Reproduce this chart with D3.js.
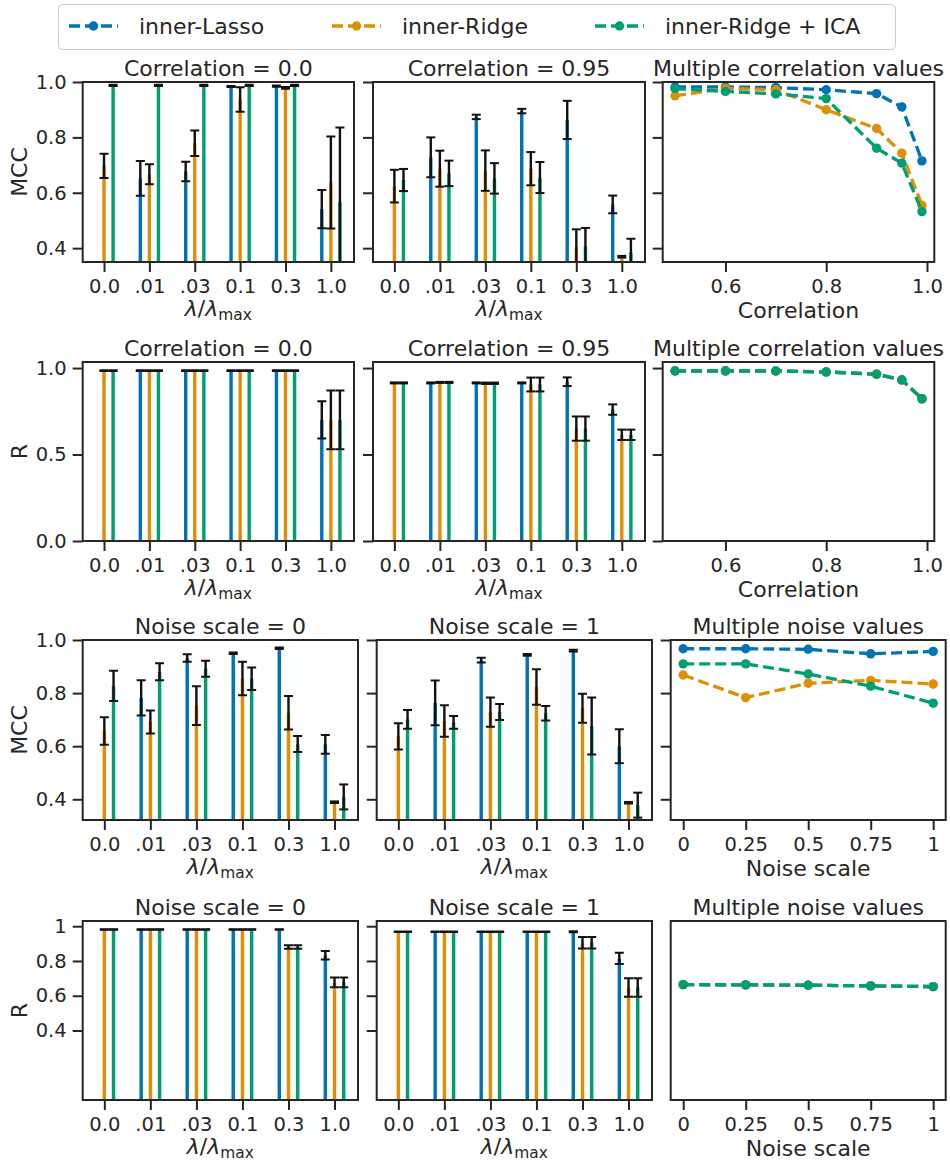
<!DOCTYPE html>
<html>
<head>
<meta charset="utf-8">
<script src="https://cdn.jsdelivr.net/npm/d3@7"></script>
<style>
  body { margin: 0; background: #fff; }
  svg { display: block; }
  text { font-family: "DejaVu Sans", sans-serif; fill: #262626; }
</style>
</head>
<body>
<svg id="fig" width="950" height="1162"></svg>
<script>
// ---- categories and tick labels ----
const methods = ["inner-Lasso", "inner-Ridge", "inner-Ridge + ICA"];
const methodColors = ["#0173b2", "#de8f05", "#029e73"];
const lambdaLabels = ["0.0", ".01", ".03", "0.1", "0.3", "1.0"];
const corrValues = [0.5, 0.6, 0.7, 0.8, 0.9, 0.95, 0.99];
const corrTicks = [0.6, 0.8, 1.0];
const noiseValues = [0, 0.25, 0.5, 0.75, 1];
const noiseTicks = [0, 0.25, 0.5, 0.75, 1];
const noiseTickLabels = ["0", "0.25", "0.5", "0.75", "1"];
const mccTicks = [0.4, 0.6, 0.8, 1.0];
const rTicksA = [0.0, 0.5, 1.0];
const rTicksB = [0.4, 0.6, 0.8, 1];
const rTickLabelsB = ["0.4", "0.6", "0.8", "1"];

// ---- MCC, correlation = 0.0 (mean, sd per lambda) ----
const mccC0Lasso = [null, 0.652, 0.677, 0.984, 0.985, 0.541];
const mccC0LassoSd = [0, 0.063, 0.035, 0.002, 0.002, 0.069];
const mccC0Ridge = [0.697, 0.667, 0.779, 0.937, 0.979, 0.637];
const mccC0RidgeSd = [0.044, 0.036, 0.046, 0.044, 0.003, 0.166];
const mccC0Ica = [0.988, 0.988, 0.988, 0.988, 0.988, 0.568];
const mccC0IcaSd = [0.002, 0.002, 0.002, 0.002, 0.002, 0.268];

// ---- MCC, correlation = 0.95 ----
const mccC95Lasso = [null, 0.728, 0.874, 0.895, 0.863, 0.558];
const mccC95LassoSd = [0, 0.072, 0.008, 0.008, 0.069, 0.032];
const mccC95Ridge = [0.624, 0.687, 0.680, 0.687, 0.403, 0.369];
const mccC95RidgeSd = [0.059, 0.065, 0.073, 0.060, 0.065, 0.003];
const mccC95Ica = [0.646, 0.670, 0.652, 0.655, 0.408, 0.384];
const mccC95IcaSd = [0.040, 0.046, 0.055, 0.056, 0.065, 0.050];

// ---- MCC across correlation values ----
const mccCorrLasso = [0.982, 0.982, 0.980, 0.972, 0.958, 0.910, 0.715];
const mccCorrRidge = [0.950, 0.977, 0.972, 0.900, 0.832, 0.743, 0.555];
const mccCorrIca = [0.976, 0.966, 0.957, 0.940, 0.761, 0.707, 0.532];

// ---- R, correlation = 0.0 ----
const rC0Lasso = [null, 0.985, 0.985, 0.985, 0.985, 0.700];
const rC0LassoSd = [0, 0.002, 0.002, 0.002, 0.002, 0.108];
const rC0Ridge = [0.985, 0.985, 0.985, 0.985, 0.985, 0.700];
const rC0RidgeSd = [0.002, 0.002, 0.002, 0.002, 0.002, 0.170];
const rC0Ica = [0.985, 0.985, 0.985, 0.985, 0.985, 0.700];
const rC0IcaSd = [0.002, 0.002, 0.002, 0.002, 0.002, 0.170];

// ---- R, correlation = 0.95 ----
const rC95Lasso = [null, 0.914, 0.914, 0.914, 0.921, 0.760];
const rC95LassoSd = [0, 0.003, 0.003, 0.003, 0.025, 0.030];
const rC95Ridge = [0.914, 0.917, 0.912, 0.905, 0.650, 0.614];
const rC95RidgeSd = [0.003, 0.003, 0.004, 0.040, 0.070, 0.030];
const rC95Ica = [0.914, 0.917, 0.912, 0.905, 0.650, 0.614];
const rC95IcaSd = [0.003, 0.003, 0.004, 0.040, 0.070, 0.030];

// ---- R across correlation values ----
const rCorrLasso = [0.984, 0.984, 0.983, 0.978, 0.965, 0.932, 0.824];
const rCorrRidge = [0.983, 0.983, 0.983, 0.977, 0.964, 0.931, 0.822];
const rCorrIca = [0.983, 0.983, 0.983, 0.977, 0.964, 0.931, 0.822];

// ---- MCC, noise scale = 0 ----
const mccN0Lasso = [null, 0.782, 0.932, 0.950, 0.969, 0.607];
const mccN0LassoSd = [0, 0.066, 0.014, 0.003, 0.003, 0.035];
const mccN0Ridge = [0.657, 0.691, 0.753, 0.855, 0.726, 0.389];
const mccN0RidgeSd = [0.052, 0.043, 0.073, 0.063, 0.063, 0.003];
const mccN0Ica = [0.827, 0.880, 0.892, 0.854, 0.608, 0.409];
const mccN0IcaSd = [0.057, 0.032, 0.030, 0.042, 0.030, 0.047];

// ---- MCC, noise scale = 1 ----
const mccN1Lasso = [null, 0.763, 0.924, 0.944, 0.960, 0.600];
const mccN1LassoSd = [0, 0.084, 0.009, 0.003, 0.003, 0.064];
const mccN1Ridge = [0.637, 0.695, 0.728, 0.823, 0.743, 0.387];
const mccN1RidgeSd = [0.049, 0.059, 0.055, 0.067, 0.055, 0.003];
const mccN1Ica = [0.701, 0.690, 0.729, 0.724, 0.676, 0.378];
const mccN1IcaSd = [0.035, 0.024, 0.030, 0.027, 0.107, 0.047];

// ---- MCC across noise values ----
const mccNoiseLasso = [0.967, 0.967, 0.965, 0.948, 0.957];
const mccNoiseRidge = [0.868, 0.783, 0.837, 0.848, 0.834];
const mccNoiseIca = [0.910, 0.910, 0.872, 0.826, 0.762];

// ---- R, noise scale = 0 ----
const rN0Lasso = [null, 0.981, 0.981, 0.981, 0.981, 0.833];
const rN0LassoSd = [0, 0.002, 0.002, 0.002, 0.002, 0.024];
const rN0Ridge = [0.981, 0.981, 0.981, 0.981, 0.881, 0.677];
const rN0RidgeSd = [0.002, 0.002, 0.002, 0.002, 0.010, 0.028];
const rN0Ica = [0.981, 0.981, 0.981, 0.981, 0.881, 0.677];
const rN0IcaSd = [0.002, 0.002, 0.002, 0.002, 0.010, 0.028];

// ---- R, noise scale = 1 ----
const rN1Lasso = [null, 0.968, 0.968, 0.968, 0.968, 0.815];
const rN1LassoSd = [0, 0.002, 0.002, 0.002, 0.003, 0.033];
const rN1Ridge = [0.968, 0.968, 0.968, 0.968, 0.905, 0.647];
const rN1RidgeSd = [0.002, 0.002, 0.002, 0.002, 0.033, 0.053];
const rN1Ica = [0.968, 0.968, 0.968, 0.968, 0.905, 0.647];
const rN1IcaSd = [0.002, 0.002, 0.002, 0.002, 0.033, 0.053];

// ---- R across noise values ----
const rNoiseLasso = [0.980, 0.979, 0.977, 0.974, 0.970];
const rNoiseRidge = [0.980, 0.979, 0.977, 0.974, 0.970];
const rNoiseIca = [0.980, 0.979, 0.977, 0.974, 0.970];

// ---- drawing ----
const INK = "#262626";
const FS_TICK = 19.5, FS_LABEL = 22, FS_TITLE = 22;
const svg = d3.select("#fig");
let clipCount = 0;

const rows = [
  { y0: 82, y1: 262, domain: [0.35, 1.0], ticks: mccTicks, tickLabels: mccTicks.map(d3.format(".1f")), ylabel: "MCC" },
  { y0: 362, y1: 541, domain: [0, 1.035], ticks: rTicksA, tickLabels: rTicksA.map(d3.format(".1f")), ylabel: "R" },
  { y0: 640, y1: 820, domain: [0.322, 1.0], ticks: mccTicks, tickLabels: mccTicks.map(d3.format(".1f")), ylabel: "MCC" },
  { y0: 921, y1: 1100, domain: [0, 1.03], ticks: rTicksB, tickLabels: rTickLabelsB, ylabel: "R" }
];
const colsTop = [[82.7, 354], [373, 645], [662.7, 934.3]];
const colsBottom = [[82.7, 358], [376.7, 652], [670.7, 945.7]];

function makeClip(box) {
  const id = "clip" + (clipCount++);
  svg.append("clipPath").attr("id", id)
    .append("rect").attr("x", box.x0).attr("y", box.y0)
    .attr("width", box.x1 - box.x0).attr("height", box.y1 - box.y0);
  return id;
}

function styleAxis(g, keepText) {
  g.attr("font-family", "DejaVu Sans").attr("font-size", FS_TICK);
  g.select(".domain").remove();
  g.selectAll(".tick line").attr("stroke", INK).attr("stroke-width", 2);
  g.selectAll(".tick text").attr("fill", INK);
  if (!keepText) g.selectAll(".tick text").remove();
}

function frame(box) {
  svg.append("rect").attr("x", box.x0).attr("y", box.y0)
    .attr("width", box.x1 - box.x0).attr("height", box.y1 - box.y0)
    .attr("fill", "none").attr("stroke", INK).attr("stroke-width", 2);
}

function title(box, txt) {
  svg.append("text").attr("x", (box.x0 + box.x1) / 2).attr("y", box.y0 - 6)
    .attr("text-anchor", "middle").attr("font-size", FS_TITLE).text(txt);
}

function yAxis(box, y, row, withLabels) {
  const g = svg.append("g").attr("transform", `translate(${box.x0},0)`)
    .call(d3.axisLeft(y).tickValues(row.ticks)
      .tickFormat((d, i) => row.tickLabels[i]).tickSize(10).tickPadding(6));
  styleAxis(g, withLabels);
  if (withLabels) {
    svg.append("text")
      .attr("transform", `translate(27,${(box.y0 + box.y1) / 2}) rotate(-90)`)
      .attr("text-anchor", "middle").attr("font-size", FS_LABEL).text(row.ylabel);
  }
}

function lambdaLabel(box) {
  const t = svg.append("text").attr("x", (box.x0 + box.x1) / 2).attr("y", box.y1 + 54)
    .attr("text-anchor", "middle").attr("font-size", FS_LABEL);
  t.append("tspan").attr("font-style", "italic").text("λ");
  t.append("tspan").text("/");
  t.append("tspan").attr("font-style", "italic").text("λ");
  t.append("tspan").attr("font-size", FS_LABEL * 0.7).attr("dy", 4).text("max");
}

function barPanel(box, row, series, heading, withLabels) {
  const x = d3.scaleLinear().domain([-0.47, 5.51]).range([box.x0, box.x1]);
  const y = d3.scaleLinear().domain(row.domain).range([box.y1, box.y0]);
  const clip = makeClip(box);
  const plot = svg.append("g").attr("clip-path", `url(#${clip})`);
  const bw = 0.075;
  series.forEach((s, k) => {
    const off = (k - 1) * 0.2;
    const pts = s.mean.map((m, i) => ({ i, m, sd: s.sd[i] })).filter(d => d.m !== null);
    plot.selectAll(null).data(pts).enter().append("rect")
      .attr("x", d => x(d.i + off - bw / 2))
      .attr("width", x(bw) - x(0))
      .attr("y", d => y(d.m))
      .attr("height", d => y(row.domain[0]) - y(d.m))
      .attr("fill", methodColors[k]);
  });
  series.forEach((s, k) => {
    const off = (k - 1) * 0.2;
    const pts = s.mean.map((m, i) => ({ i, m, sd: s.sd[i] })).filter(d => d.m !== null);
    const eg = plot.selectAll(null).data(pts).enter().append("g")
      .attr("stroke", "#111").attr("fill", "none");
    eg.append("line")
      .attr("x1", d => x(d.i + off)).attr("x2", d => x(d.i + off))
      .attr("y1", d => y(d.m - d.sd)).attr("y2", d => y(d.m + d.sd))
      .attr("stroke-width", 2.4);
    [-1, 1].forEach(sg => {
      eg.append("line")
        .attr("x1", d => x(d.i + off) - 4.5).attr("x2", d => x(d.i + off) + 4.5)
        .attr("y1", d => y(d.m + sg * d.sd)).attr("y2", d => y(d.m + sg * d.sd))
        .attr("stroke-width", 2);
    });
  });
  frame(box);
  yAxis(box, y, row, withLabels);
  const gx = svg.append("g").attr("transform", `translate(0,${box.y1})`)
    .call(d3.axisBottom(x).tickValues(d3.range(lambdaLabels.length))
      .tickFormat(i => lambdaLabels[i]).tickSize(10).tickPadding(7));
  styleAxis(gx, true);
  title(box, heading);
  lambdaLabel(box);
}

function linePanel(box, row, xs, xDomain, xTicks, xTickLabels, series, heading, xlabel, yDomain) {
  const x = d3.scaleLinear().domain(xDomain).range([box.x0, box.x1]);
  const y = d3.scaleLinear().domain(yDomain || row.domain).range([box.y1, box.y0]);
  const clip = makeClip(box);
  const plot = svg.append("g").attr("clip-path", `url(#${clip})`);
  const line = d3.line().x((d, i) => x(xs[i])).y(d => y(d));
  series.forEach((vals, k) => {
    plot.append("path").attr("d", line(vals)).attr("fill", "none")
      .attr("stroke", methodColors[k]).attr("stroke-width", 3.3)
      .attr("stroke-dasharray", "11,5");
    plot.selectAll(null).data(vals).enter().append("circle")
      .attr("cx", (d, i) => x(xs[i])).attr("cy", d => y(d)).attr("r", 4.7)
      .attr("fill", methodColors[k]);
  });
  frame(box);
  if (!yDomain) yAxis(box, y, row, false);
  const gx = svg.append("g").attr("transform", `translate(0,${box.y1})`)
    .call(d3.axisBottom(x).tickValues(xTicks)
      .tickFormat((d, i) => xTickLabels[i]).tickSize(10).tickPadding(7));
  styleAxis(gx, true);
  title(box, heading);
  svg.append("text").attr("x", (box.x0 + box.x1) / 2).attr("y", box.y1 + 56)
    .attr("text-anchor", "middle").attr("font-size", FS_LABEL).text(xlabel);
}

function boxOf(row, col) { return { x0: col[0], x1: col[1], y0: row.y0, y1: row.y1 }; }

const corrDomain = [0.4755, 1.0145];
const noiseDomain = [-0.05, 1.05];
const corrTickLabels = corrTicks.map(d3.format(".1f"));

// Row 1: MCC vs correlation
barPanel(boxOf(rows[0], colsTop[0]), rows[0], [
  { mean: mccC0Lasso, sd: mccC0LassoSd }, { mean: mccC0Ridge, sd: mccC0RidgeSd }, { mean: mccC0Ica, sd: mccC0IcaSd }
], "Correlation = 0.0", true);
barPanel(boxOf(rows[0], colsTop[1]), rows[0], [
  { mean: mccC95Lasso, sd: mccC95LassoSd }, { mean: mccC95Ridge, sd: mccC95RidgeSd }, { mean: mccC95Ica, sd: mccC95IcaSd }
], "Correlation = 0.95", false);
linePanel(boxOf(rows[0], colsTop[2]), rows[0], corrValues, corrDomain, corrTicks, corrTickLabels,
  [mccCorrLasso, mccCorrRidge, mccCorrIca], "Multiple correlation values", "Correlation");

// Row 2: R vs correlation
barPanel(boxOf(rows[1], colsTop[0]), rows[1], [
  { mean: rC0Lasso, sd: rC0LassoSd }, { mean: rC0Ridge, sd: rC0RidgeSd }, { mean: rC0Ica, sd: rC0IcaSd }
], "Correlation = 0.0", true);
barPanel(boxOf(rows[1], colsTop[1]), rows[1], [
  { mean: rC95Lasso, sd: rC95LassoSd }, { mean: rC95Ridge, sd: rC95RidgeSd }, { mean: rC95Ica, sd: rC95IcaSd }
], "Correlation = 0.95", false);
linePanel(boxOf(rows[1], colsTop[2]), rows[1], corrValues, corrDomain, corrTicks, corrTickLabels,
  [rCorrLasso, rCorrRidge, rCorrIca], "Multiple correlation values", "Correlation");

// Row 3: MCC vs noise
barPanel(boxOf(rows[2], colsBottom[0]), rows[2], [
  { mean: mccN0Lasso, sd: mccN0LassoSd }, { mean: mccN0Ridge, sd: mccN0RidgeSd }, { mean: mccN0Ica, sd: mccN0IcaSd }
], "Noise scale = 0", true);
barPanel(boxOf(rows[2], colsBottom[1]), rows[2], [
  { mean: mccN1Lasso, sd: mccN1LassoSd }, { mean: mccN1Ridge, sd: mccN1RidgeSd }, { mean: mccN1Ica, sd: mccN1IcaSd }
], "Noise scale = 1", false);
linePanel(boxOf(rows[2], colsBottom[2]), rows[2], noiseValues, noiseDomain, noiseTicks, noiseTickLabels,
  [mccNoiseLasso, mccNoiseRidge, mccNoiseIca], "Multiple noise values", "Noise scale");

// Row 4: R vs noise
barPanel(boxOf(rows[3], colsBottom[0]), rows[3], [
  { mean: rN0Lasso, sd: rN0LassoSd }, { mean: rN0Ridge, sd: rN0RidgeSd }, { mean: rN0Ica, sd: rN0IcaSd }
], "Noise scale = 0", true);
barPanel(boxOf(rows[3], colsBottom[1]), rows[3], [
  { mean: rN1Lasso, sd: rN1LassoSd }, { mean: rN1Ridge, sd: rN1RidgeSd }, { mean: rN1Ica, sd: rN1IcaSd }
], "Noise scale = 1", false);
linePanel(boxOf(rows[3], colsBottom[2]), rows[3], noiseValues, noiseDomain, noiseTicks, noiseTickLabels,
  [rNoiseLasso, rNoiseRidge, rNoiseIca], "Multiple noise values", "Noise scale", [0.4, 1.3]);

// ---- legend ----
const legend = svg.append("g");
legend.append("rect").attr("x", 58.5).attr("y", 4.5).attr("width", 837).attr("height", 45)
  .attr("rx", 4).attr("fill", "#fff").attr("stroke", "#cccccc").attr("stroke-width", 1);
const legendX = [69, 332, 595];
methods.forEach((m, k) => {
  const lx = legendX[k];
  legend.append("line").attr("x1", lx).attr("x2", lx + 49).attr("y1", 26).attr("y2", 26)
    .attr("stroke", methodColors[k]).attr("stroke-width", 3.3).attr("stroke-dasharray", "11,5");
  legend.append("circle").attr("cx", lx + 24.5).attr("cy", 26).attr("r", 4.7).attr("fill", methodColors[k]);
  legend.append("text").attr("x", lx + 70).attr("y", 34).attr("font-size", FS_LABEL).text(m);
});
</script>
</body>
</html>
